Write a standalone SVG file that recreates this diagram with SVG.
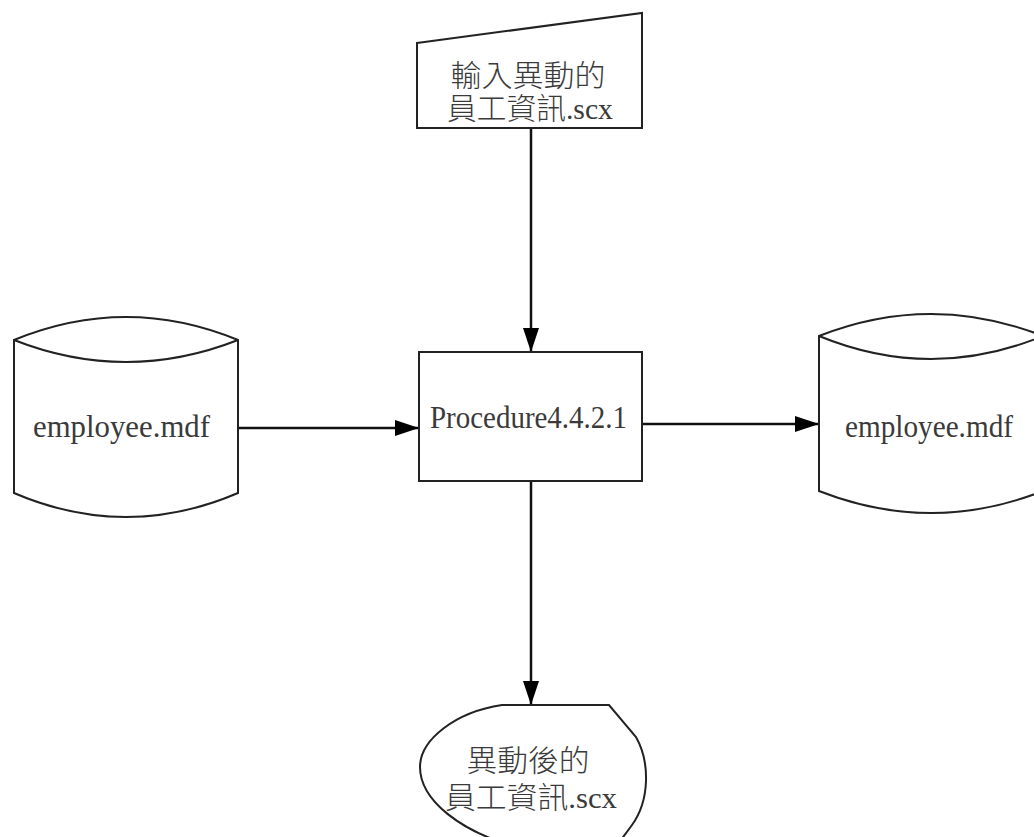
<svg xmlns="http://www.w3.org/2000/svg" width="1034" height="837" viewBox="0 0 1034 837">
<style>
.shape{fill:#fff;stroke:#222;stroke-width:2}
.conn{stroke:#111;stroke-width:2.5;fill:none}
.lat{font-family:"Liberation Serif","Times New Roman",serif;fill:#3a3a3a}
.cjk{font-family:"Liberation Serif","Noto Sans CJK TC",serif;fill:#3a3a3a;font-size:30px;font-weight:300}
</style>
<defs>
<marker id="arr" markerUnits="userSpaceOnUse" markerWidth="24" markerHeight="16" refX="24" refY="8" orient="auto">
<path d="M0,0 L24,8 L0,16 Z" fill="#000"/>
</marker>
</defs>
<rect width="1034" height="837" fill="#fff"/>
<g id="connectors">
<line class="conn" x1="531" y1="128" x2="531" y2="352" marker-end="url(#arr)"/>
<line class="conn" x1="238" y1="428" x2="419" y2="428" marker-end="url(#arr)"/>
<line class="conn" x1="642" y1="424" x2="819" y2="424" marker-end="url(#arr)"/>
<line class="conn" x1="531" y1="481" x2="531" y2="705" marker-end="url(#arr)"/>
</g>
<g id="input">
<path class="shape" d="M417,43 L642,13 L642,128 L417,128 Z"/>
<text class="cjk" x="528" y="86" text-anchor="middle" textLength="155" lengthAdjust="spacingAndGlyphs">輸入異動的</text>
<text class="cjk" x="530" y="119" text-anchor="middle" textLength="166" lengthAdjust="spacingAndGlyphs">員工資訊.scx</text>
</g>
<g id="process">
<rect class="shape" x="419" y="352" width="223" height="129"/>
<text class="lat" x="528.5" y="428" text-anchor="middle" font-size="32" textLength="197" lengthAdjust="spacingAndGlyphs">Procedure4.4.2.1</text>
</g>
<g id="db-left">
<path class="shape" d="M14,340 Q126,294 238,340 L238,493 Q126,541 14,493 Z"/>
<path class="shape" fill="none" d="M14,340 Q126,384 238,340"/>
<text class="lat" x="121.5" y="437" text-anchor="middle" font-size="31" textLength="177" lengthAdjust="spacingAndGlyphs">employee.mdf</text>
</g>
<g id="db-right">
<path class="shape" d="M819,336 Q931,292 1043,336 L1043,491 Q931,535 819,491 Z"/>
<path class="shape" fill="none" d="M819,336 Q931,382 1043,336"/>
<text class="lat" x="929" y="437" text-anchor="middle" font-size="31" textLength="168" lengthAdjust="spacingAndGlyphs">employee.mdf</text>
</g>
<g id="output">
<path class="shape" d="M502,705 L609,705 L636,737 C650,762 650,800 632,825 L615,848 L520,848 C460,832 420,800 420,767 C420,740 455,712 502,705 Z"/>
<text class="cjk" x="528" y="771" text-anchor="middle" textLength="123" lengthAdjust="spacingAndGlyphs">異動後的</text>
<text class="cjk" x="531" y="808" text-anchor="middle" textLength="172" lengthAdjust="spacingAndGlyphs">員工資訊.scx</text>
</g>
</svg>
